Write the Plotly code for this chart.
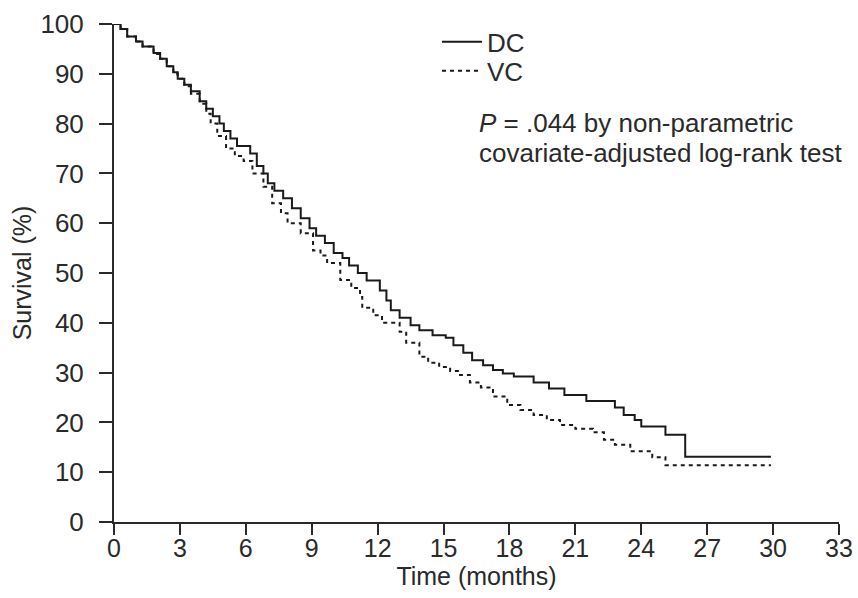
import plotly.graph_objects as go

# Kaplan-Meier step data
dc_time = [0, 0.3, 0.6, 1.0, 1.3, 1.8, 2.1, 2.4, 2.7, 2.9, 3.2, 3.5, 3.9, 4.2, 4.5, 4.8,
           5.0, 5.3, 5.6, 6.2, 6.5, 6.8, 7.0, 7.3, 7.7, 8.1, 8.5, 8.9, 9.2, 9.6, 10.0,
           10.4, 10.7, 11.1, 11.5, 12.1, 12.4, 12.6, 13.0, 13.5, 13.9, 14.5, 15.1, 15.45,
           15.9, 16.3, 16.8, 17.25, 17.7, 18.2, 19.1, 19.8, 20.5, 21.5, 22.8, 23.2, 23.7,
           24.0, 25.1, 26.0, 29.9]
dc_surv = [100, 99, 97.5, 96.5, 95.5, 94.2, 93, 91.5, 90.3, 89, 87.8, 86.5, 84.5, 83, 81.5, 80,
           78.5, 77, 75.5, 74, 71.5, 70, 68, 66.5, 65, 63, 61, 59, 57.5, 56, 54,
           53, 51.5, 50, 48.5, 46.5, 44.5, 42.5, 41, 39.5, 38.5, 37.5, 37, 35.5,
           34, 32.5, 31.5, 30.5, 29.8, 29.2, 28, 26.8, 25.5, 24.3, 23, 21.5, 20.5,
           19.2, 17.5, 13.1, 13.1]

vc_time = [0, 0.3, 0.6, 1.0, 1.3, 1.8, 2.1, 2.4, 2.7, 2.9, 3.2, 3.5, 3.9, 4.2, 4.4, 4.7,
           5.1, 5.5, 5.9, 6.3, 6.8, 7.2, 7.6, 7.9, 8.5, 9.06, 9.4, 9.7, 10.3, 10.8, 11.2,
           11.3, 11.8, 12.2, 13.0, 13.3, 13.9, 14.3, 14.8, 15.3, 15.75, 16.2, 16.7, 17.25,
           17.9, 18.5, 19.1, 19.7, 20.3, 21.0, 21.8, 22.3, 22.8, 23.5, 24.5, 25.1, 29.9]
vc_surv = [100, 99, 97.5, 96.5, 95.5, 94, 93, 91.5, 90, 89, 87.5, 86, 84, 82, 80, 77.5,
           75, 73.5, 72.5, 70, 67.3, 64, 62, 60, 58, 54.5, 53.5, 52, 48.6, 47, 45.2,
           43, 41.5, 40, 38.2, 36, 33.2, 32, 31.1, 30.3, 29.5, 28, 27, 25.2,
           23.5, 22.5, 21.5, 20.5, 19.5, 18.7, 18, 16.5, 15.5, 14.2, 13, 11.4, 11.4]

x_ticks = [0, 3, 6, 9, 12, 15, 18, 21, 24, 27, 30, 33]
y_ticks = [0, 10, 20, 30, 40, 50, 60, 70, 80, 90, 100]

FONT = "Liberation Sans, Arial, Helvetica, sans-serif"
INK = "#2a2a2a"
FS = 26
FT = 25

fig = go.Figure()
fig.add_trace(go.Scatter(x=dc_time, y=dc_surv, mode="lines", name="DC", legend="legend",
                         line=dict(color="#1a1a1a", width=2, shape="hv"),
                         cliponaxis=False))
fig.add_trace(go.Scatter(x=vc_time, y=vc_surv, mode="lines", name="VC", legend="legend2",
                         line=dict(color="#1a1a1a", width=2, shape="hv", dash="4px,4px"),
                         cliponaxis=False))

leg_common = dict(xanchor="left", yanchor="middle", bgcolor="rgba(0,0,0,0)",
                  font=dict(size=FS, color=INK), itemwidth=40)

fig.update_layout(
    width=858, height=598,
    margin=dict(l=114, r=19, t=24, b=76),
    paper_bgcolor="white", plot_bgcolor="white",
    font=dict(family=FONT, size=FS, color=INK),
    showlegend=True,
    legend=dict(x=0.4455, y=0.964, **leg_common),
    legend2=dict(x=0.4455, y=0.906, **leg_common),
    annotations=[
        dict(text="<i>P</i> = .044 by non-parametric", xref="paper", yref="paper",
             x=0.5, y=0.801, xanchor="left", yanchor="middle", showarrow=False,
             font=dict(size=FS, color=INK)),
        dict(text="covariate-adjusted log-rank test", xref="paper", yref="paper",
             x=0.5, y=0.740, xanchor="left", yanchor="middle", showarrow=False,
             font=dict(size=FS, color=INK)),
    ],
)

fig.update_xaxes(range=[0, 33], tickvals=x_ticks, ticktext=[str(v) for v in x_ticks],
                 automargin=False,
                 showgrid=False, zeroline=False, showline=True, linecolor=INK, linewidth=2,
                 ticks="outside", ticklen=11, tickwidth=2, tickcolor=INK,
                 ticklabelstandoff=-8, tickfont=dict(size=25, color=INK),
                 title=dict(text="Time (months)", standoff=6, font=dict(size=FT, color=INK)))
fig.update_yaxes(range=[0, 100], tickvals=y_ticks, ticktext=[str(v) for v in y_ticks],
                 automargin=False,
                 showgrid=False, zeroline=False, showline=True, linecolor=INK, linewidth=2,
                 ticks="outside", ticklen=13, tickwidth=2, tickcolor=INK,
                 ticklabelstandoff=10, tickfont=dict(size=FS, color=INK),
                 title=dict(text="Survival (%)", standoff=2, font=dict(size=FT, color=INK)))

fig.write_html("out.html",
               config={"displayModeBar": False},
               post_script="document.body.style.margin='0';document.body.style.overflow='hidden';")
